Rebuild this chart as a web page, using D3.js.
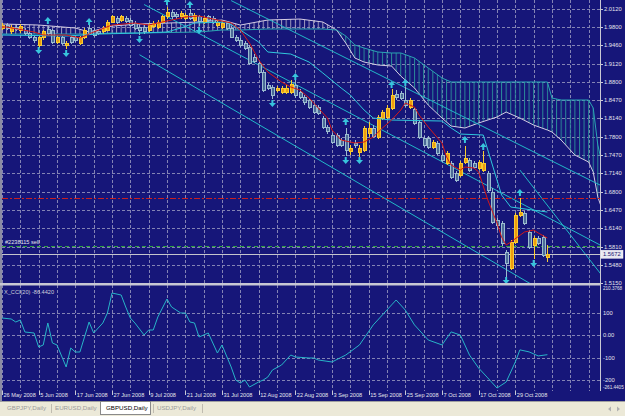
<!DOCTYPE html>
<head>
    <meta charset="utf-8">
    <title>GBPUSD,Daily</title>
    <style>
        body { margin: 0; background: #ece9d8; }
        svg { display: block; }
        text { font-family: "Liberation Sans", Arial, sans-serif; }
    </style>
</head>
<body>

<svg width="625" height="416"></svg>

<script src="https://cdn.jsdelivr.net/npm/d3@7"></script>
<script>
    // ---- data ----
    var dateLabels = ["26 May 2008", "5 Jun 2008", "17 Jun 2008", "27 Jun 2008", "9 Jul 2008", "21 Jul 2008",
        "31 Jul 2008", "12 Aug 2008", "22 Aug 2008", "3 Sep 2008", "15 Sep 2008", "25 Sep 2008",
        "7 Oct 2008", "17 Oct 2008", "29 Oct 2008"];
    var dateBars = [0, 8, 16, 24, 32, 40, 48, 56, 64, 72, 80, 88, 96, 104, 112];

    var priceTicks = [2.0120, 1.9800, 1.9460, 1.9120, 1.8800, 1.8470, 1.8140, 1.7800,
        1.7470, 1.7140, 1.6800, 1.6470, 1.6140, 1.5810, 1.5480, 1.5150];

    var opens = [1.9775,1.9829,1.9703,1.9793,1.9721,1.9739,1.9684,1.9612,1.9467,1.9594,
        1.9757,1.9721,1.9521,1.9594,1.9449,1.9594,1.9612,1.9503,1.9612,1.9775,
        1.9739,1.9703,1.9703,1.9739,1.9884,1.9956,1.9920,1.9956,1.9920,1.9866,
        1.9793,1.9793,1.9739,1.9811,1.9793,1.9884,1.9975,2.0065,2.0029,1.9975,
        1.9956,2.0047,1.9920,1.9975,1.9884,1.9975,1.9956,1.9829,1.9793,1.9866,
        1.9775,1.9612,1.9557,1.9503,1.9430,1.9249,1.9140,1.8977,1.8741,1.8705,
        1.8650,1.8614,1.8614,1.8614,1.8741,1.8614,1.8523,1.8469,1.8378,1.8342,
        1.8142,1.7979,1.7834,1.7834,1.7743,1.7852,1.7544,1.7689,1.7526,1.7562,
        1.7870,1.7961,1.7798,1.8142,1.8161,1.8324,1.8578,1.8596,1.8469,1.8342,
        1.8288,1.8070,1.7780,1.7780,1.7616,1.7689,1.7471,1.7326,1.7326,1.7145,
        1.7108,1.7344,1.7381,1.7326,1.7235,1.7199,1.7145,1.6800,1.6292,1.6238,
        1.5712,1.5421,1.5893,1.6383,1.6419,1.6075,1.5839,1.5966,1.5984,1.5621];
    var highs = [1.9866,1.9866,1.9829,1.9829,1.9848,1.9775,1.9721,1.9648,1.9630,1.9739,
        1.9811,1.9757,1.9648,1.9630,1.9539,1.9630,1.9648,1.9630,1.9775,1.9829,
        1.9775,1.9739,1.9811,1.9920,2.0011,1.9993,2.0011,1.9993,1.9956,1.9902,
        1.9829,1.9829,1.9866,1.9902,1.9920,2.0011,2.0156,2.0102,2.0065,2.0083,
        2.0047,2.0120,2.0047,2.0011,1.9993,2.0011,1.9993,1.9920,1.9902,1.9902,
        1.9811,1.9648,1.9594,1.9539,1.9467,1.9303,1.9176,1.9013,1.8777,1.8741,
        1.8723,1.8723,1.8741,1.8832,1.8832,1.8669,1.8560,1.8505,1.8415,1.8378,
        1.8179,1.8015,1.7870,1.7870,1.7780,1.7961,1.7653,1.7743,1.7653,1.7997,
        1.8070,1.8015,1.8197,1.8288,1.8378,1.8669,1.8650,1.8632,1.8705,1.8505,
        1.8324,1.8106,1.7816,1.7816,1.7743,1.7725,1.7508,1.7544,1.7362,1.7181,
        1.7362,1.7635,1.7417,1.7362,1.7381,1.7544,1.7181,1.6873,1.6328,1.6274,
        1.5748,1.5929,1.6419,1.6691,1.6455,1.6111,1.6002,1.6002,1.6020,1.5839];
    var lows = [1.9739,1.9739,1.9666,1.9721,1.9684,1.9648,1.9576,1.9503,1.9412,1.9557,
        1.9648,1.9485,1.9485,1.9467,1.9394,1.9485,1.9521,1.9467,1.9576,1.9666,
        1.9612,1.9648,1.9666,1.9721,1.9866,1.9848,1.9884,1.9866,1.9793,1.9739,
        1.9648,1.9666,1.9703,1.9775,1.9757,1.9866,1.9938,1.9938,1.9938,1.9938,
        1.9920,1.9920,1.9884,1.9811,1.9848,1.9884,1.9848,1.9793,1.9757,1.9739,
        1.9594,1.9521,1.9430,1.9376,1.9104,1.9140,1.8941,1.8614,1.8650,1.8487,
        1.8614,1.8578,1.8578,1.8578,1.8505,1.8487,1.8378,1.8306,1.8215,1.8197,
        1.7943,1.7852,1.7671,1.7616,1.7616,1.7453,1.7471,1.7598,1.7435,1.7526,
        1.7798,1.7780,1.7762,1.8106,1.8124,1.8288,1.8469,1.8469,1.8342,1.8306,
        1.8015,1.7762,1.7616,1.7580,1.7580,1.7471,1.7344,1.7290,1.7036,1.6982,
        1.7072,1.7308,1.7163,1.7217,1.7199,1.7163,1.6800,1.6220,1.6111,1.5821,
        1.5258,1.5385,1.5857,1.6347,1.6201,1.5766,1.5585,1.5839,1.5621,1.5530];
    var closes = [1.9829,1.9775,1.9793,1.9757,1.9811,1.9684,1.9612,1.9557,1.9594,1.9703,
        1.9684,1.9521,1.9612,1.9503,1.9503,1.9521,1.9557,1.9594,1.9739,1.9684,
        1.9648,1.9684,1.9775,1.9884,1.9975,1.9884,1.9975,1.9902,1.9829,1.9775,
        1.9739,1.9703,1.9829,1.9866,1.9884,1.9975,2.0065,1.9975,1.9975,2.0047,
        2.0011,1.9956,2.0011,1.9902,1.9956,1.9920,1.9884,1.9884,1.9866,1.9775,
        1.9612,1.9557,1.9467,1.9412,1.9140,1.9176,1.8977,1.8650,1.8687,1.8542,
        1.8687,1.8687,1.8687,1.8759,1.8542,1.8523,1.8415,1.8342,1.8251,1.8233,
        1.7979,1.7889,1.7707,1.7653,1.7653,1.7562,1.7598,1.7653,1.7598,1.7961,
        1.7961,1.7816,1.8161,1.8251,1.8324,1.8560,1.8523,1.8505,1.8378,1.8469,
        1.8052,1.7798,1.7653,1.7616,1.7707,1.7508,1.7381,1.7508,1.7072,1.7018,
        1.7326,1.7417,1.7199,1.7254,1.7344,1.7326,1.6836,1.6256,1.6201,1.5875,
        1.5512,1.5893,1.6383,1.6437,1.6238,1.5802,1.5966,1.5875,1.5657,1.5672];

    // red line (tenkan) and cyan line (kijun): bar index, price
    var tenkanBars = [0,1,7,9,14,17,20,24,29,32,34,37,40,43,45,50,52,54,56,58,61,63,65,67,69,71,72,74,77,79,
        81,83,85,87,88,90,91,93,96,97,98,100,101,103,104,106,108,109,110,111,114,116,117,119];
    var tenkanVals = [1.9793,1.9793,1.9703,1.9648,1.9648,1.9594,1.9703,1.9829,1.9866,1.9829,1.9866,1.9920,1.9975,
        1.9993,1.9956,1.9866,1.9739,1.9503,1.9195,1.8977,1.8796,1.8705,1.8650,1.8505,1.8324,1.8142,1.7925,
        1.7743,1.7689,1.7707,1.7798,1.7961,1.8106,1.8288,1.8415,1.8342,1.8197,1.7979,1.7689,1.7435,1.7290,
        1.7199,1.7254,1.7235,1.7163,1.6655,1.6238,1.5984,1.5839,1.5893,1.6075,1.6111,1.6057,1.5966];
    var kijunBars = [0,14,21,30,36,39,42,49,52,56,58,63,67,70,74,76,79,81,85,96,98,100,105,107,109,111,119];
    var kijunVals = [1.9648,1.9630,1.9666,1.9684,1.9703,1.9775,1.9866,1.9884,1.9739,1.9521,1.9340,1.9303,1.9158,
        1.8959,1.8687,1.8560,1.8288,1.8142,1.8106,1.8088,1.7961,1.7852,1.7834,1.7290,1.6746,1.6528,1.6437];

    // ichimoku cloud, shifted forward
    var cloudBars = [0,8,16,19,24,30,43,48,52,58,65,70,73,75,77,79,82,85,87,90,93,96,98,101,104,108,110,
        113,116,119,120,122,125,128,129,130,131];
    var spanA = [1.9848,1.9829,1.9775,1.9703,1.9811,1.9848,1.9884,1.9920,1.9829,1.9920,1.9938,1.9884,1.9739,
        1.9503,1.9231,1.9158,1.9104,1.9086,1.8904,1.8687,1.8378,1.8142,1.7997,1.7961,1.8052,1.8161,1.8251,
        1.8142,1.8015,1.7925,1.7889,1.7743,1.7471,1.7344,1.7163,1.6709,1.6474];
    var spanB = [1.9666,1.9666,1.9666,1.9666,1.9684,1.9684,1.9703,1.9739,1.9739,1.9757,1.9757,1.9757,1.9739,
        1.9630,1.9467,1.9412,1.9340,1.9322,1.9322,1.9231,1.9050,1.8868,1.8796,1.8796,1.8796,1.8796,1.8796,
        1.8796,1.8796,1.8796,1.8505,1.8469,1.8469,1.8469,1.8324,1.7653,1.7290];

    // drawn trend / channel lines: [bar, price] at both ends
    var channelLines = [
        [[50, 2.0272], [131, 1.6905]],
        [[31, 2.0201], [131, 1.5817]],
        [[30, 1.9291], [118, 1.5005]],
        [[113, 1.7199], [131, 1.5276]]
    ];

    // fractal arrows
    var upBars = [10, 19, 36, 41, 64, 75, 85, 88, 101, 105, 113];
    var upVals = [1.9902, 1.9884, 2.0247, 2.0192, 1.8886, 1.8070, 1.8741, 1.8777, 1.7743, 1.7616, 1.6782];
    var downBars = [8, 14, 30, 43, 59, 75, 78, 110, 116];
    var downVals = [1.9376, 1.9322, 1.9576, 1.9739, 1.8415, 1.7381, 1.7381, 1.5204, 1.5512];

    // horizontal levels
    var redLevel = 1.6691, sellLevel = 1.5821, bidLevel = 1.5672;

    // CCI sub window
    var cciTicks = [100, 0, -100, -200];
    var cciBars = [0,2,3,4,5,7,8,9,10,11,12,14,15,16,17,19,20,22,23,24,26,27,28,29,31,32,33,34,36,37,39,40,41,42,43,
        45,47,48,50,51,52,53,54,56,57,58,59,61,62,63,64,67,68,69,72,75,78,81,85,86,88,90,93,96,98,100,102,104,
        106,108,110,112,113,115,117,119];
    var cciVals = [76.9,72.4,59.1,68.0,14.5,10.1,-52.2,-43.3,54.6,-34.4,-43.3,-141.2,-56.7,-74.5,-74.5,59.1,10.1,
        54.6,99.1,188.1,179.2,125.8,76.9,54.6,1.2,23.4,23.4,81.3,161.4,125.8,99.1,99.1,59.1,54.6,-7.7,
        10.1,-79.0,-43.3,-141.2,-199.1,-212.5,-199.1,-230.3,-208.0,-199.1,-185.8,-154.6,-132.4,-110.1,-87.8,-96.7,
        -101.2,-101.2,-110.1,-119,-88,-43,46,135,157,112,46,-21,-43,15,1,-88,-146,
        -190,-235,-208,-119,-65,-74,-92,-86.4];
    var cciLabels = ["210.3768", "100", "0.00", "-100", "-200", "-261.4405"];
    var cciLabelVals = [210.3768, 100, 0, -100, -200, -230];

    var tabs = ["GBPJPY,Daily", "EURUSD,Daily", "GBPUSD,Daily", "USDJPY,Daily"];

    // ---- layout ----
    var svg = d3.select("svg"),
        width = +svg.attr("width"),
        height = +svg.attr("height");

    var plotLeft = 2, plotRight = 600, mainBottom = 283, subTop = 286, subBottom = 391, tabTop = 401;

    var x = d3.scaleLinear().domain([0, 119]).range([2, 547.4]);
    var y = d3.scaleLinear().domain([1.5150, 2.0120]).range([283, 9]);
    var yc = d3.scaleLinear().domain([-261.4405, 210.3768]).range([394, 288]);
    var step = x(1) - x(0);

    var navy = "#161679", gridColor = "#a8a8c8", axisText = "#e4e4ec";

    svg.append("rect").attr("width", width).attr("height", tabTop).attr("fill", navy);
    svg.append("rect").attr("width", 2).attr("height", tabTop).attr("fill", "#8c8ca4");

    var defs = svg.append("defs");
    defs.append("clipPath").attr("id", "clipMain").append("rect")
        .attr("x", plotLeft).attr("y", 0).attr("width", plotRight - plotLeft).attr("height", mainBottom);
    defs.append("clipPath").attr("id", "clipSub").append("rect")
        .attr("x", plotLeft).attr("y", subTop).attr("width", plotRight - plotLeft).attr("height", subBottom - subTop);

    function hatch(id, color) {
        var p = defs.append("pattern").attr("id", id).attr("patternUnits", "userSpaceOnUse")
            .attr("x", x(0) - 0.5).attr("y", 0).attr("width", step).attr("height", 8);
        p.append("line").attr("x1", 0.5).attr("x2", 0.5).attr("y1", 0).attr("y2", 8)
            .attr("stroke", color).attr("stroke-width", 1);
    }
    hatch("hatchA", "#9c98bc");
    hatch("hatchB", "#2a8898");

    var cloud = cloudBars.map(function(b, i) { return {bar: b, spanA: spanA[i], spanB: spanB[i]}; });
    defs.append("clipPath").attr("id", "aboveB").append("path")
        .attr("d", d3.area().x(function(d) { return x(d.bar); }).y0(0).y1(function(d) { return y(d.spanB); })(cloud));
    defs.append("clipPath").attr("id", "belowB").append("path")
        .attr("d", d3.area().x(function(d) { return x(d.bar); }).y0(mainBottom).y1(function(d) { return y(d.spanB); })(cloud));

    // ---- grid ----
    var grid = svg.append("g").attr("stroke", gridColor).attr("stroke-dasharray", "3,2")
        .attr("stroke-width", 1).attr("opacity", 0.75);
    grid.selectAll(".hg").data(priceTicks).enter().append("line")
        .attr("x1", plotLeft).attr("x2", plotRight)
        .attr("y1", function(d) { return Math.round(y(d)) + 0.5; })
        .attr("y2", function(d) { return Math.round(y(d)) + 0.5; });
    grid.selectAll(".hc").data(cciTicks).enter().append("line")
        .attr("x1", plotLeft).attr("x2", plotRight)
        .attr("y1", function(d) { return Math.round(yc(d)) + 0.5; })
        .attr("y2", function(d) { return Math.round(yc(d)) + 0.5; });
    var gridBars = d3.range(0, 131, 4);
    grid.selectAll(".vg").data(gridBars).enter().append("line")
        .attr("x1", function(d) { return Math.round(x(d)) + 0.5; })
        .attr("x2", function(d) { return Math.round(x(d)) + 0.5; })
        .attr("y1", 0).attr("y2", subBottom);

    // ---- main window ----
    var main = svg.append("g").attr("clip-path", "url(#clipMain)");

    var cloudArea = d3.area().x(function(d) { return x(d.bar); })
        .y0(function(d) { return y(d.spanB); }).y1(function(d) { return y(d.spanA); });
    main.append("g").attr("clip-path", "url(#aboveB)").append("path")
        .attr("d", cloudArea(cloud)).attr("fill", "url(#hatchA)");
    main.append("g").attr("clip-path", "url(#belowB)").append("path")
        .attr("d", cloudArea(cloud)).attr("fill", "url(#hatchB)");
    main.append("path").datum(cloud)
        .attr("d", d3.line().x(function(d) { return x(d.bar); }).y(function(d) { return y(d.spanA); }))
        .attr("fill", "none").attr("stroke", "#d4cce4").attr("stroke-width", 1);
    main.append("path").datum(cloud)
        .attr("d", d3.line().x(function(d) { return x(d.bar); }).y(function(d) { return y(d.spanB); }))
        .attr("fill", "none").attr("stroke", "#2aa4b4").attr("stroke-width", 1);

    // channel lines
    main.selectAll(".ch").data(channelLines).enter().append("line")
        .attr("x1", function(d) { return x(d[0][0]); }).attr("y1", function(d) { return y(d[0][1]); })
        .attr("x2", function(d) { return x(d[1][0]); }).attr("y2", function(d) { return y(d[1][1]); })
        .attr("stroke", "#22b8c8").attr("stroke-width", 1);

    // horizontal levels
    main.append("line").attr("x1", plotLeft).attr("x2", plotRight)
        .attr("y1", Math.round(y(redLevel)) + 0.5).attr("y2", Math.round(y(redLevel)) + 0.5)
        .attr("stroke", "#c82020").attr("stroke-dasharray", "6,2,2,2");
    main.append("line").attr("x1", plotLeft).attr("x2", plotRight)
        .attr("y1", Math.round(y(sellLevel)) + 0.5).attr("y2", Math.round(y(sellLevel)) + 0.5)
        .attr("stroke", "#30a040").attr("stroke-dasharray", "4,3");
    main.append("line").attr("x1", plotLeft).attr("x2", plotRight)
        .attr("y1", Math.round(y(bidLevel)) + 0.5).attr("y2", Math.round(y(bidLevel)) + 0.5)
        .attr("stroke", "#c4c4cc");
    main.append("text").attr("x", 5).attr("y", Math.round(y(sellLevel)) - 2)
        .attr("fill", axisText).attr("font-size", 5.6).text("#2238115 sell");

    // candles
    var bars = d3.range(opens.length);
    function up(i) { return closes[i] >= opens[i]; }
    var candle = main.selectAll(".candle").data(bars).enter().append("g")
        .attr("shape-rendering", "crispEdges");
    candle.append("line")
        .attr("x1", function(i) { return Math.round(x(i)) + 0.5; })
        .attr("x2", function(i) { return Math.round(x(i)) + 0.5; })
        .attr("y1", function(i) { return y(highs[i]); })
        .attr("y2", function(i) { return y(lows[i]); })
        .attr("stroke", function(i) { return up(i) ? "#f8cc30" : "#9cbcd0"; });
    candle.append("rect")
        .attr("x", function(i) { return Math.round(x(i)) - 1; })
        .attr("width", 3)
        .attr("y", function(i) { return y(Math.max(opens[i], closes[i])); })
        .attr("height", function(i) { return Math.max(1, Math.abs(y(opens[i]) - y(closes[i]))); })
        .attr("fill", function(i) { return up(i) ? "#ee9c10" : "#4c6c98"; })
        .attr("stroke", function(i) { return up(i) ? "#f8cc30" : "#9cbcd0"; })
        .attr("stroke-width", 1);

    // kijun and tenkan
    var kijun = kijunBars.map(function(b, i) { return [x(b), y(kijunVals[i])]; });
    var tenkan = tenkanBars.map(function(b, i) { return [x(b), y(tenkanVals[i])]; });
    main.append("path").attr("d", d3.line()(kijun))
        .attr("fill", "none").attr("stroke", "#30c8dc").attr("stroke-width", 1);
    main.append("path").attr("d", d3.line()(tenkan))
        .attr("fill", "none").attr("stroke", "#d41818").attr("stroke-width", 1);

    // fractals
    var arrowUp = "M0,-4L3.5,0L1,0L1,3L-1,3L-1,0L-3.5,0Z";
    var arrowDown = "M0,4L3.5,0L1,0L1,-3L-1,-3L-1,0L-3.5,0Z";
    main.selectAll(".fu").data(upBars).enter().append("path")
        .attr("d", arrowUp).attr("fill", "#38c4dc")
        .attr("transform", function(b, i) { return "translate(" + x(b) + "," + y(upVals[i]) + ")"; });
    main.selectAll(".fd").data(downBars).enter().append("path")
        .attr("d", arrowDown).attr("fill", "#38c4dc")
        .attr("transform", function(b, i) { return "translate(" + x(b) + "," + y(downVals[i]) + ")"; });

    // ---- CCI window ----
    var sub = svg.append("g").attr("clip-path", "url(#clipSub)");
    var cci = cciBars.map(function(b, i) { return [x(b), yc(cciVals[i])]; });
    sub.append("path").attr("d", d3.line()(cci))
        .attr("fill", "none").attr("stroke", "#28b4c8").attr("stroke-width", 1);
    svg.append("text").attr("x", 4).attr("y", 294).attr("fill", "#d0d0dc")
        .attr("font-size", 5.6).text("X_CCI(20) -86.4420");

    // separator between windows
    svg.append("rect").attr("x", 0).attr("y", 283).attr("width", plotRight + 1).attr("height", 2.5)
        .attr("fill", "#c8c8d4");

    // ---- right price scale ----
    svg.append("line").attr("x1", plotRight + 0.5).attr("x2", plotRight + 0.5)
        .attr("y1", 0).attr("y2", subBottom).attr("stroke", "#c8c8d4");
    var ax = svg.append("g").attr("font-size", 5.8).attr("fill", axisText);
    ax.selectAll(".pl").data(priceTicks).enter().append("text")
        .attr("x", 604).attr("y", function(d) { return y(d) + 2; })
        .text(function(d) { return d3.format(".4f")(d); });
    ax.selectAll(".pt").data(priceTicks).enter().append("line")
        .attr("x1", plotRight).attr("x2", plotRight + 3)
        .attr("y1", function(d) { return Math.round(y(d)) + 0.5; })
        .attr("y2", function(d) { return Math.round(y(d)) + 0.5; })
        .attr("stroke", "#c8c8d4");
    ax.selectAll(".cl").data(cciLabels).enter().append("text")
        .attr("x", 603)
        .attr("y", function(d, i) { return yc(cciLabelVals[i]) + 2; })
        .attr("font-size", function(d) { return d.length > 5 ? 4.6 : 5.8; })
        .text(function(d) { return d; });

    // current bid box
    svg.append("rect").attr("x", 601).attr("y", y(bidLevel) - 4).attr("width", 22).attr("height", 8)
        .attr("fill", "#e8e8f0").attr("stroke", "#ffffff").attr("stroke-width", 0.5);
    svg.append("text").attr("x", 603).attr("y", y(bidLevel) + 2).attr("font-size", 5.8)
        .attr("fill", "#141470").text(d3.format(".4f")(bidLevel));

    // ---- date scale ----
    var dx = svg.append("g").attr("font-size", 5.6).attr("fill", axisText);
    dx.selectAll(".dt").data(dateBars).enter().append("line")
        .attr("x1", function(b) { return Math.round(x(b)) + 0.5; })
        .attr("x2", function(b) { return Math.round(x(b)) + 0.5; })
        .attr("y1", subBottom).attr("y2", subBottom + 4).attr("stroke", "#c8c8d4");
    dx.selectAll(".dl").data(dateBars).enter().append("text")
        .attr("x", function(b) { return x(b) + 1.5; }).attr("y", 397)
        .text(function(b, i) { return dateLabels[i]; });

    // ---- tab bar ----
    svg.append("rect").attr("x", 0).attr("y", tabTop).attr("width", width).attr("height", height - tabTop)
        .attr("fill", "#ece9d8");
    svg.append("line").attr("x1", 0).attr("x2", width).attr("y1", tabTop + 0.5).attr("y2", tabTop + 0.5)
        .attr("stroke", "#a0a0a0");
    var tabX = [7, 55, 106, 157];
    svg.append("rect").attr("x", 100.5).attr("y", tabTop + 0.5).attr("width", 50).attr("height", 13)
        .attr("fill", "#ffffff").attr("stroke", "#8a8a8a");
    svg.selectAll(".tab").data(tabs).enter().append("text")
        .attr("x", function(d, i) { return tabX[i]; }).attr("y", 410)
        .attr("font-size", 6.2)
        .attr("fill", function(d, i) { return i === 2 ? "#000000" : "#9a9a9a"; })
        .text(function(d) { return d; });
    svg.selectAll(".sep").data([51, 153, 202]).enter().append("line")
        .attr("x1", function(d) { return d + 0.5; }).attr("x2", function(d) { return d + 0.5; })
        .attr("y1", tabTop + 3).attr("y2", tabTop + 12).attr("stroke", "#c0bcb0");
    svg.append("path").attr("d", "M608,409l3,-2.5v5z M620,409l-3,-2.5v5z").attr("fill", "#b0b0b0");
</script>

</body>
